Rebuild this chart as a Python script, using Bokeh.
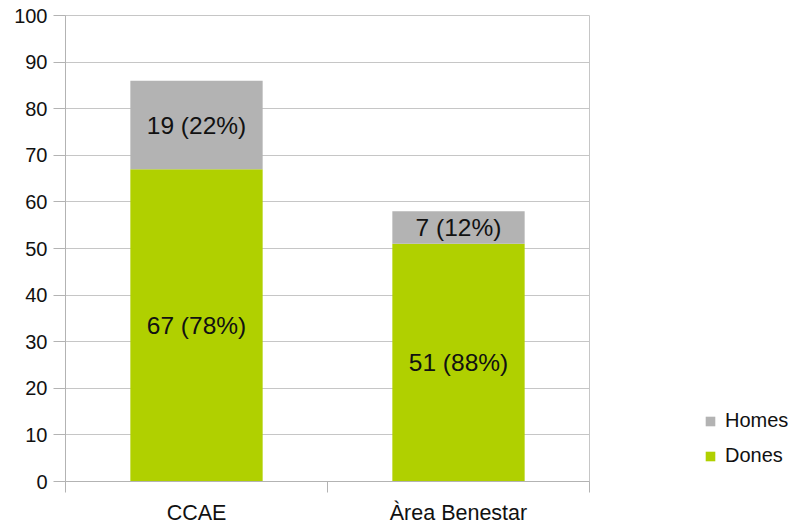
from bokeh.plotting import figure
from bokeh.models import FixedTicker, Legend, LegendItem, Range1d
from bokeh.core.properties import value
from bokeh.embed import file_html
from bokeh.resources import INLINE

categories = ["CCAE", "Àrea Benestar"]
dones = [67, 51]
homes = [19, 7]
y_ticks = list(range(0, 101, 10))
series_names = ["Homes", "Dones"]

FONT = "Liberation Sans"
GREEN = "#b0d000"
GRAY = "#b3b3b3"
GRID = "#c6c6c6"

xs = [i + 0.5 for i in range(len(categories))]
totals = [d + h for d, h in zip(dones, homes)]
dones_lbl = [f"{d} ({round(100 * d / t)}%)" for d, t in zip(dones, totals)]
homes_lbl = [f"{h} ({round(100 * h / t)}%)" for h, t in zip(homes, totals)]
dones_mid = [d / 2 for d in dones]
homes_mid = [d + h / 2 for d, h in zip(dones, homes)]

p = figure(frame_width=524, frame_height=466, output_backend="svg", toolbar_location=None,
           x_range=Range1d(0, len(categories)), y_range=Range1d(0, 100),
           min_border_left=65, min_border_top=15, min_border_right=201,
           min_border_bottom=44)
p.background_fill_color = "white"
p.border_fill_color = "white"
p.outline_line_color = GRID

r_d = p.vbar(x=xs, top=dones, bottom=0, width=0.505, fill_color=GREEN, line_color=None)
r_h = p.vbar(x=xs, top=totals, bottom=dones, width=0.505, fill_color=GRAY, line_color=None)

p.text(x=xs, y=dones_mid, text=dones_lbl, text_align="center", text_baseline="middle",
       text_font=value(FONT), text_font_size="24.5px", text_color="#111111")
p.text(x=xs, y=homes_mid, text=homes_lbl, text_align="center", text_baseline="middle",
       text_font=value(FONT), text_font_size="24.5px", text_color="#111111")

# y axis
p.yaxis.ticker = FixedTicker(ticks=y_ticks)
p.yaxis.major_label_text_font = FONT
p.yaxis.major_label_text_font_size = "20px"
p.yaxis.major_label_text_color = "#111111"
p.yaxis.major_tick_out = 12
p.yaxis.major_tick_in = 0
p.yaxis.minor_tick_line_color = None
p.yaxis.axis_line_color = GRAY
p.yaxis.major_tick_line_color = GRAY
p.yaxis.major_label_standoff = 6

# x axis
p.xaxis.ticker = FixedTicker(ticks=xs, minor_ticks=list(range(len(categories) + 1)))
p.xaxis.major_label_overrides = {x: c for x, c in zip(xs, categories)}
p.xaxis.major_label_text_font = FONT
p.xaxis.major_label_text_font_size = "21.5px"
p.xaxis.major_label_text_color = "#111111"
p.xaxis.major_tick_out = 0
p.xaxis.major_tick_in = 0
p.xaxis.major_tick_line_color = None
p.xaxis.minor_tick_out = 11
p.xaxis.minor_tick_in = 0
p.xaxis.minor_tick_line_color = GRAY
p.xaxis.axis_line_color = GRAY
p.xaxis.major_label_standoff = 8

p.ygrid.ticker = FixedTicker(ticks=y_ticks)
p.ygrid.grid_line_color = GRID
p.xgrid.grid_line_color = None

legend = Legend(items=[LegendItem(label=series_names[0], renderers=[r_h]),
                       LegendItem(label=series_names[1], renderers=[r_d])],
                location=(115, 14), padding=0, margin=0, spacing=12,
                glyph_width=12, glyph_height=12, label_height=20, label_standoff=9,
                label_text_font=FONT, label_text_font_size="20px", label_text_color="#111111",
                border_line_color=None, background_fill_alpha=0)
p.add_layout(legend, "right")

open("out.html", "w").write(file_html(p, INLINE))
